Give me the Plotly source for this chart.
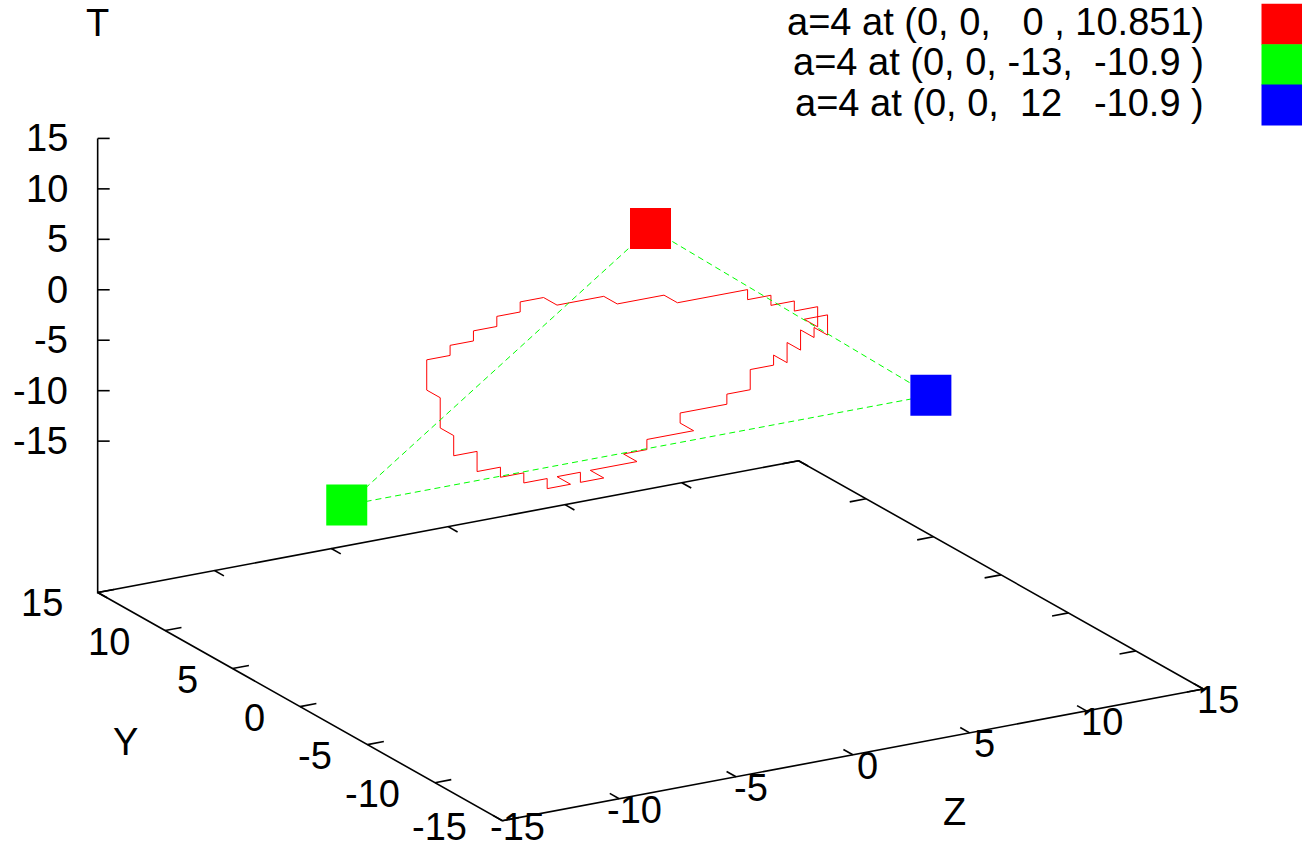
import math
import plotly.graph_objects as go

# ---------------- data ----------------
TICK_VALUES = [-15, -10, -5, 0, 5, 10, 15]
TICK_LABELS = ["-15", "-10", "-5", "0", "5", "10", "15"]
Y_RANGE = [-15, 15]
Z_RANGE = [-15, 15]
T_RANGE = [-15, 15]
TICSLEVEL = 0.5

# the three marked states (Y, Z, T)
point_y = [0, 0, 0]
point_z = [0, -13, 12]
point_t = [10.851, -10.9, -10.9]
point_colors = ["#ff0000", "#00ff00", "#0000ff"]
point_titles = [
    "a=4 at (0, 0,   0 , 10.851)",
    "a=4 at (0, 0, -13,  -10.9 )",
    "a=4 at (0, 0,  12   -10.9 )",
]

# closed lattice path (Y, Z, T corners)
curve_y = [1, 1, 0, 0, -1, -1, -2, -2, -2, -2, -2, -2, -2, -2, -2, -1, -1, -1, 0, 0,
           1, 1, 2, 2, 3, 3, 3, 3, 3, 3, 3, 3, 2, 2, 2, 2, 1, 1, 0, 0,
           0, 0, -1, -1, -1, -1, -1, -1, -1, -1, -1, -1, -1, 0, 0, 1, 1, 1, 1, 1,
           1, 1, 1, 1, 1]
curve_z = [-5, -4, -4, -2, -2, 0, 0, 3, 3, 4, 4, 5, 5, 6, 6, 6, 7, 7, 7, 7,
           7, 7, 7, 7, 7, 7, 6, 6, 5, 5, 3, 3, 3, 1, 1, 0, 0, -2, -2, -3,
           -3, -4, -4, -5, -5, -6, -6, -7, -7, -8, -8, -9, -9, -9, -9, -9, -9, -8, -8, -7,
           -7, -6, -6, -5, -5]
curve_t = [5, 5, 5, 5, 5, 5, 5, 5, 4, 4, 3, 3, 2, 2, 0, 0, 0, -2, -2, -3,
           -3, -5, -5, -7, -7, -8, -8, -10, -10, -11, -11, -12, -12, -12, -13, -13, -13, -13, -13, -13,
           -12, -12, -12, -12, -11, -11, -10, -10, -9, -9, -7, -7, -5, -5, -2, -2, 1, 1, 2, 2,
           3, 3, 4, 4, 5]

# ---------------- view (orthographic, like "set view 71, 60") ----------------
ROT_X = math.radians(71.0)
ROT_Z = math.radians(60.0)
XY_SCALE = 26.98      # px per unit on the base plane
T_SCALE = 10.672      # px per unit on the vertical axis
ORIGIN_X, ORIGIN_Y = 650.5, 338.0   # screen position of (0, 0, 0), y measured from the top
W, H = 1302, 849


def view(y, z, t):
    """Project a (Y, Z, T) point to screen coordinates (x right, y up)."""
    u = -y  # Y axis runs from the front corner towards the left
    xr = u * math.cos(ROT_Z) + z * math.sin(ROT_Z)
    yr = -u * math.sin(ROT_Z) + z * math.cos(ROT_Z)
    sx = ORIGIN_X + XY_SCALE * xr
    sy = ORIGIN_Y - (XY_SCALE * yr * math.cos(ROT_X) + T_SCALE * t * math.sin(ROT_X))
    return sx, -sy


def project(ys, zs, ts):
    pts = [view(a, b, c) for a, b, c in zip(ys, zs, ts)]
    return [p[0] for p in pts], [p[1] for p in pts]


T_BASE = T_RANGE[0] - TICSLEVEL * (T_RANGE[1] - T_RANGE[0])
Y0, Y1 = Y_RANGE
Z0, Z1 = Z_RANGE
TIC = 0.7          # base tic length in axis units
TIC_PX = 12        # vertical-axis tic length in px

fig = go.Figure()

# base frame and vertical axis
fx, fy = project([Y1, Y0, Y0, Y1, Y1, Y1], [Z0, Z0, Z1, Z1, Z0, Z0],
                 [T_BASE] * 5 + [T_RANGE[1]])
fig.add_trace(go.Scatter(x=fx, y=fy, mode="lines",
                         line=dict(color="black", width=1.6), hoverinfo="skip"))

# tics
tx, ty = [], []
for v in TICK_VALUES:
    # Y tics on the front-left edge and mirrored on the back-right edge
    for (za, zb) in [(Z0, Z0 + TIC), (Z1, Z1 - TIC)]:
        a = view(v, za, T_BASE)
        b = view(v, zb, T_BASE)
        tx += [a[0], b[0], None]
        ty += [a[1], b[1], None]
    # Z tics on the front-right edge and mirrored on the back-left edge
    for (ya, yb) in [(Y0, Y0 + TIC), (Y1, Y1 - TIC)]:
        a = view(ya, v, T_BASE)
        b = view(yb, v, T_BASE)
        tx += [a[0], b[0], None]
        ty += [a[1], b[1], None]
    # T tics on the vertical axis
    a = view(Y1, Z0, v)
    tx += [a[0], a[0] + TIC_PX, None]
    ty += [a[1], a[1], None]
fig.add_trace(go.Scatter(x=tx, y=ty, mode="lines",
                         line=dict(color="black", width=1.6), hoverinfo="skip"))

# red lattice path
cx, cy = project(curve_y, curve_z, curve_t)
fig.add_trace(go.Scatter(x=cx, y=cy, mode="lines",
                         line=dict(color="#ff0000", width=1), hoverinfo="skip"))

# dashed triangle joining the three states
px, py = project(point_y + point_y[:1], point_z + point_z[:1], point_t + point_t[:1])
fig.add_trace(go.Scatter(x=px, y=py, mode="lines",
                         line=dict(color="#00ff00", width=1, dash="6px,4px"),
                         hoverinfo="skip"))

# the states themselves
mx, my = project(point_y, point_z, point_t)
fig.add_trace(go.Scatter(x=mx, y=my, mode="markers",
                         marker=dict(symbol="square", size=41, color=point_colors,
                                     line=dict(width=0)),
                         hoverinfo="skip"))

# key (top right)
KEY_SAMPLE_X = 1282
KEY_TEXT_X = 1206
KEY_TOP = 24.25
KEY_ROW = 40.4
key_y = [-(KEY_TOP + i * KEY_ROW) for i in range(len(point_titles))]
fig.add_trace(go.Scatter(x=[KEY_SAMPLE_X] * len(key_y), y=key_y, mode="markers",
                         marker=dict(symbol="square", size=41, color=point_colors,
                                     line=dict(width=0)),
                         hoverinfo="skip"))

FONT_SIZE = 38
FONT = dict(family="Liberation Sans, Arial, Helvetica, sans-serif", size=FONT_SIZE, color="black")
HALF_BOX = 0.57 * FONT_SIZE   # half height of a text line box
annotations = []


def label(x, y, text, xanchor="center", xshift=0, yshift=0):
    # keep the line box inside the canvas
    bottom = -y - yshift + HALF_BOX
    if bottom > H:
        yshift += bottom - H
    annotations.append(dict(x=x, y=y, xref="x", yref="y", text=text.replace(" ", "\u00a0"),
                            showarrow=False, xanchor=xanchor, yanchor="middle",
                            xshift=xshift, yshift=yshift, font=FONT))


for v, s in zip(TICK_VALUES, TICK_LABELS):
    x, y = view(v, Z0, T_BASE)
    label(x, y, s, xanchor="right", xshift=-33, yshift=-11)
    x, y = view(Y0, v, T_BASE)
    label(x, y, s, xanchor="center", xshift=15, yshift=-11)
    x, y = view(Y1, Z0, v)
    label(x, y, s, xanchor="right", xshift=-28)

x, y = view(0, Z0, T_BASE)
label(x, y, "Y", xshift=-175, yshift=-35)
x, y = view(Y0, 0, T_BASE)
label(x, y, "Z", xshift=102, yshift=-57)
x, y = view(Y1, Z0, T_RANGE[1])
label(x, y, "T", xshift=0, yshift=115)

for ky, title in zip(key_y, point_titles):
    label(KEY_TEXT_X, ky + 2.5, title, xanchor="right")

fig.update_layout(
    width=W, height=H,
    margin=dict(l=0, r=0, t=0, b=0),
    paper_bgcolor="white", plot_bgcolor="white",
    showlegend=False,
    xaxis=dict(range=[0, W], visible=False, fixedrange=True),
    yaxis=dict(range=[-H, 0], visible=False, fixedrange=True),
    annotations=annotations,
)

fig.write_html("out.html")
